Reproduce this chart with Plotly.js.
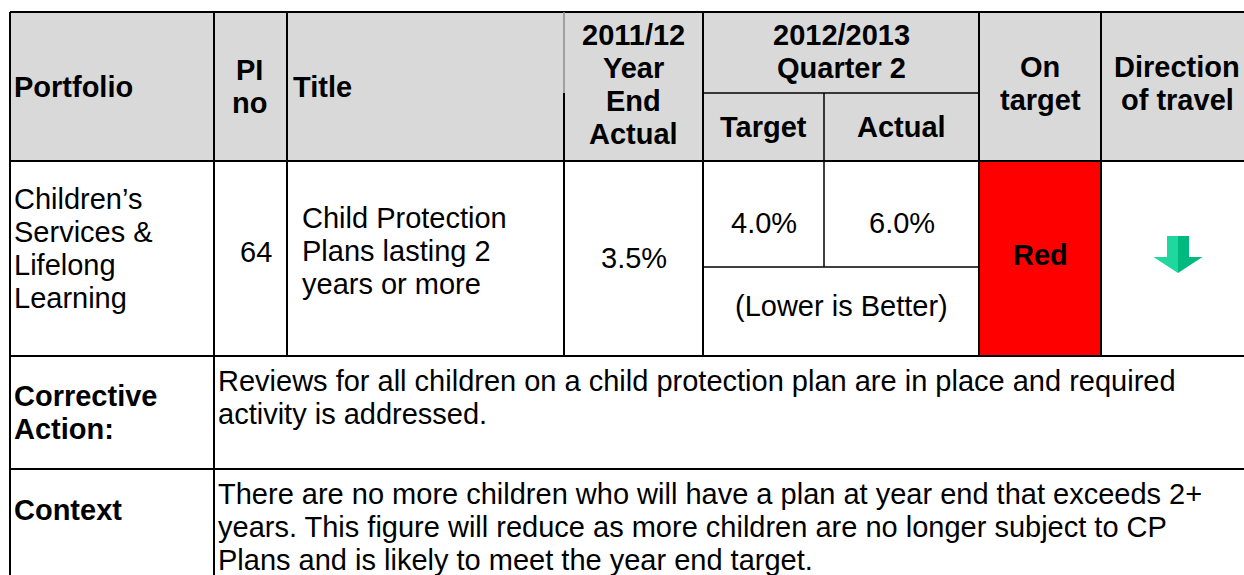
<!DOCTYPE html>
<html>
<head>
<meta charset="utf-8">
<script src="https://cdn.plot.ly/plotly-3.0.1.min.js"></script>
<style>
  html, body { margin: 0; padding: 0; background: #ffffff; overflow: hidden; }
  #chart { width: 1244px; height: 575px; }
</style>
</head>
<body>
<div id="chart"></div>
<script>
// ---------------- data (text content of the table) ----------------
const headPortfolio = ['Portfolio'];
const headPiNo = ['PI', 'no'];
const headTitle = ['Title'];
const headPrevYear = ['2011/12', 'Year', 'End', 'Actual'];
const headPeriod = ['2012/2013', 'Quarter 2'];
const headSub = ['Target', 'Actual'];
const headOnTarget = ['On', 'target'];
const headDirection = ['Direction', 'of travel'];

const portfolioLines = ['Children\u2019s', 'Services &', 'Lifelong', 'Learning'];
const piNumber = [64];
const titleLines = ['Child Protection', 'Plans lasting 2', 'years or more'];
const prevYearActual = [3.5];
const quarterTarget = [4.0];
const quarterActual = [6.0];
const polarityNote = ['(Lower is Better)'];
const ragStatus = ['Red'];
const travelDirection = ['down'];

const correctiveLabel = ['Corrective', 'Action:'];
const correctiveLines = [
  'Reviews for all children on a child protection plan are in place and required',
  'activity is addressed.'
];
const contextLabel = ['Context'];
const contextLines = [
  'There are no more children who will have a plan at year end that exceeds 2+',
  'years. This figure will reduce as more children are no longer subject to CP',
  'Plans and is likely to meet the year end target.'
];

// ---------------- layout geometry (page pixels) ----------------
const W = 1244, H = 575;
const FS = 29;
const LH = 33;
const FONT = '"Liberation Sans", Arial, sans-serif';
const colX = [10, 214, 287, 564, 703, 824, 979, 1101, 1253];
const rowY = { top: 12, sub: 93, head: 161, mid: 267, row: 356, corr: 469, end: 600 };

const pct = v => v.toFixed(1) + '%';

const annotations = [];
function txt(text, x, baseline, opts) {
  opts = opts || {};
  annotations.push({
    x: x, y: baseline - FS * 0.345, xref: 'x', yref: 'y',
    text: opts.bold ? '<b>' + text + '</b>' : text,
    showarrow: false,
    xanchor: opts.anchor || 'left', yanchor: 'middle',
    font: { family: FONT, size: FS, color: '#000000' },
    borderpad: 0
  });
}
function block(lines, x, firstBaseline, opts) {
  lines.forEach((l, i) => txt(l, x, firstBaseline + i * LH, opts));
}

// header
block(headPortfolio, 13, 97, { bold: true });
block(headPiNo, 249, 80, { bold: true, anchor: 'center' });
block(headTitle, 292, 97, { bold: true });
block(headPrevYear, (colX[3] + colX[4]) / 2, 45, { bold: true, anchor: 'center' });
block(headPeriod, (colX[4] + colX[6]) / 2, 45, { bold: true, anchor: 'center' });
txt(headSub[0], (colX[4] + colX[5]) / 2, 137, { bold: true, anchor: 'center' });
txt(headSub[1], (colX[5] + colX[6]) / 2, 137, { bold: true, anchor: 'center' });
block(headOnTarget, (colX[6] + colX[7]) / 2, 77, { bold: true, anchor: 'center' });
block(headDirection, (colX[7] + colX[8]) / 2, 77, { bold: true, anchor: 'center' });

// data row
block(portfolioLines, 13, 209, {});
txt(String(piNumber[0]), 256, 262, { anchor: 'center' });
block(titleLines, 301, 228, {});
txt(pct(prevYearActual[0]), (colX[3] + colX[4]) / 2, 268, { anchor: 'center' });
txt(pct(quarterTarget[0]), (colX[4] + colX[5]) / 2, 233, { anchor: 'center' });
txt(pct(quarterActual[0]), (colX[5] + colX[6]) / 2, 233, { anchor: 'center' });
txt(polarityNote[0], (colX[4] + colX[6]) / 2, 316, { anchor: 'center' });
txt(ragStatus[0], (colX[6] + colX[7]) / 2, 265, { bold: true, anchor: 'center' });

// lower rows
block(correctiveLabel, 13, 406, { bold: true });
block(correctiveLines, 217, 391, {});
block(contextLabel, 13, 520, { bold: true });
block(contextLines, 217, 504, {});

// ---------------- shapes ----------------
const shapes = [];
function rect(x0, y0, x1, y1, color) {
  shapes.push({ type: 'rect', xref: 'x', yref: 'y', x0, y0, x1, y1,
    fillcolor: color, line: { width: 0 }, layer: 'below' });
}
function line(x0, y0, x1, y1, w, c) {
  shapes.push({ type: 'line', xref: 'x', yref: 'y', x0, y0, x1, y1,
    line: { color: c || '#000000', width: w || 2 } });
}
rect(colX[0], rowY.top, 1300, rowY.head, '#d9d9d9');
const ragColors = { Red: '#ff0000', Amber: '#ffc000', Green: '#00b050' };
rect(colX[6], rowY.head, colX[7], rowY.row, ragColors[ragStatus[0]]);

// horizontal rules
line(colX[0], rowY.top, 1300, rowY.top);
line(colX[0], rowY.head, 1300, rowY.head);
line(colX[0], rowY.row, 1300, rowY.row);
line(colX[0], rowY.corr, 1300, rowY.corr);
line(colX[4], rowY.sub, colX[6], rowY.sub, 1.5);
line(colX[4], rowY.mid, colX[6], rowY.mid, 1.5);
// vertical rules
line(colX[0], rowY.top, colX[0], rowY.end);
line(colX[1], rowY.top, colX[1], rowY.end);
[2, 4, 6, 7].forEach(i => line(colX[i], rowY.top, colX[i], rowY.row));
line(colX[3], rowY.top, colX[3], rowY.sub, 1.5, '#8c8c8c');
line(colX[3], rowY.sub, colX[3], rowY.row);
line(colX[5], rowY.sub, colX[5], rowY.mid, 1.5);

// direction-of-travel arrow
const ax = (colX[7] + colX[8]) / 2 + 1, ay = 236;
if (travelDirection[0] === 'down') {
  shapes.push({ type: 'path', xref: 'x', yref: 'y', layer: 'above',
    path: `M${ax-11},${ay} L${ax},${ay} L${ax},${ay+37} L${ax-24.5},${ay+21} L${ax-11},${ay+21} Z`,
    fillcolor: '#1fd79f', line: { width: 0 } });
  shapes.push({ type: 'path', xref: 'x', yref: 'y', layer: 'above',
    path: `M${ax},${ay} L${ax+11},${ay} L${ax+11},${ay+21} L${ax+24.5},${ay+21} L${ax},${ay+37} Z`,
    fillcolor: '#00b97f', line: { width: 0 } });
}

const layout = {
  width: W, height: H,
  margin: { l: 0, r: 0, t: 0, b: 0, pad: 0 },
  paper_bgcolor: '#ffffff', plot_bgcolor: '#ffffff',
  xaxis: { range: [0, W], visible: false, fixedrange: true },
  yaxis: { range: [H, 0], visible: false, fixedrange: true },
  showlegend: false,
  shapes: shapes,
  annotations: annotations
};

Plotly.newPlot('chart', [{ x: [], y: [], type: 'scatter', mode: 'markers', hoverinfo: 'skip' }], layout,
  { displayModeBar: false, staticPlot: true });
</script>
</body>
</html>
